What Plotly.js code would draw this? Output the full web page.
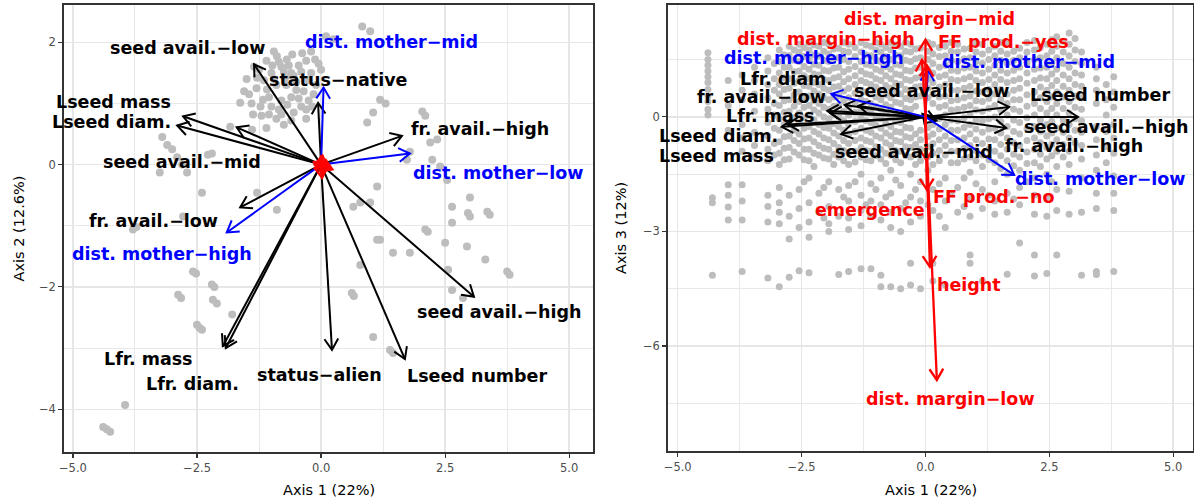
<!DOCTYPE html>
<html><head><meta charset="utf-8">
<script src="https://cdn.plot.ly/plotly-3.0.1.min.js"></script>
<style>body{margin:0;background:#fff}#chart{width:1194px;height:502px}</style>
</head><body><div id="chart"></div>
<script>
// ---------------- DATA ----------------
const varNames = ['seed avail.−low','status−native','Lseed mass','Lseed diam.','seed avail.−mid','fr. avail.−low','fr. avail.−high','Lfr. mass','Lfr. diam.','status−alien','Lseed number','seed avail.−high','dist. mother−low','dist. mother−mid','dist. mother−high','dist. margin−mid','dist. margin−high','dist. margin−low','FF prod.−yes','FF prod.−no','emergence','height'];
const varGroup = ['trait','trait','trait','trait','trait','trait','trait','trait','trait','trait','trait','trait','mother','mother','mother','margin','margin','margin','margin','margin','margin','margin'];
const axis1Load = [-1.35,-0.06,-2.78,-2.90,-1.70,-1.63,1.63,-1.92,-1.98,0.22,1.69,3.08,1.79,0.05,-1.90,0.00,-0.07,0.23,0.03,0.03,0.02,0.09];
const axis2Load = [1.64,1.01,0.79,0.64,0.61,-0.70,0.47,-3.00,-2.97,-3.03,-3.18,-2.16,0.18,1.26,-1.11,0.10,-0.05,-0.08,0.15,-0.15,-0.22,0.05];
const axis3Load = [0.29,0.08,-0.20,-0.26,-0.45,0.31,-0.29,0.10,0.16,-0.10,0.26,0.00,-1.52,1.23,0.60,2.02,1.49,-6.89,1.35,-1.91,-1.13,-3.93];
// label anchor positions (data units) for each panel, null = not shown
const leftLabelX = [-2.70,0.35,-4.19,-4.23,-2.80,-3.37,3.21,-3.47,-2.60,-0.04,3.15,3.60,3.57,1.41,-3.21,null,null,null,null,null,null,null];
const leftLabelY = [1.90,1.39,1.03,0.69,0.05,-0.93,0.59,-3.18,-3.58,-3.44,-3.45,-2.41,-0.13,2.00,-1.47,null,null,null,null,null,null,null];
const rightLabelX = [0.12,null,-4.21,-4.18,-0.24,-3.30,2.99,-3.12,-2.80,null,3.52,3.65,3.52,2.08,-2.24,0.09,-2.00,0.51,1.57,1.39,-1.11,0.88];
const rightLabelY = [0.69,null,-1.02,-0.50,-0.91,0.52,-0.75,0.02,1.00,null,0.58,-0.26,-1.62,1.44,1.55,2.57,2.05,-7.39,1.97,-2.10,-2.44,-4.40];

const leftPoints = [[-1.29,1.42],[-1.09,1.23],[-1.17,1.06],[-1.63,1.01],[-1.37,0.82],[-1.39,0.57],[-1.83,0.62],
[-0.89,1.77],[-0.69,1.72],[-0.95,1.85],[-0.8,1.6],[-1.0,1.5],[-0.6,1.5],[-0.45,1.62],[-0.3,1.7],[-0.12,1.72],[-0.2,1.5],[-0.5,1.35],[-0.7,1.3],[-0.9,1.3],[-0.35,1.2],[-0.6,1.1],[-0.8,1.05],[-1.0,0.95],[-0.4,0.95],[-0.25,1.05],[-0.55,0.85],[-1.2,0.8],[-0.9,0.75],[-0.3,0.75],[-0.1,1.3],[0.0,1.55],[-1.1,1.7],[-1.35,1.6],[-1.5,1.4],[-1.45,1.15],
[-0.85,1.68],[-0.75,1.52],[-0.65,1.62],[-0.55,1.45],[-0.4,1.52],[-0.25,1.38],[-0.15,1.15],[-0.45,1.08],[-0.68,0.98],[-0.85,0.9],[-1.05,1.1],[-1.22,0.95],[-1.3,1.25],[-1.15,1.38],[-0.95,1.4],[-0.72,1.42],[-0.5,1.22],[-0.3,0.9],[-0.6,0.72],[-0.8,0.82],[-1.05,0.82],[-1.25,1.55],[-0.98,1.62],[-0.58,1.8],[-0.38,1.82],[-0.2,1.85],[-0.05,1.65],[-0.18,0.95],[-1.55,1.2],[-1.4,1.0],[-1.1,0.6],[-0.75,0.65],
[0.1,2.1],[0.25,2.05],[0.83,2.26],[0.99,2.18],[1.19,1.06],[1.3,1.0],[0.93,0.69],[1.05,0.85],
[2.04,0.87],[2.1,0.8],[2.2,0.36],[2.34,0.41],[2.24,0.08],[2.4,-0.03],[2.54,-0.25],[1.79,0.21],[1.73,0.08],[1.13,-0.36],[3.0,-0.54],[2.96,-0.79],[3.0,-0.85],[3.35,-0.77],[3.4,-0.82],[2.64,-0.69],[2.64,-0.95],[2.1,-1.06],[2.15,-1.1],[1.79,-1.44],[1.45,-1.44],[1.13,-1.23],[1.19,-1.23],[2.5,-1.28],[2.94,-1.34],[3.31,-1.55],[3.75,-1.75],[3.8,-1.8],[2.56,-1.72],[2.64,-2.05],[2.86,-2.18],[1.05,-2.82],[1.39,-3.03],[1.45,-3.08],[0.79,-1.64],[0.62,-2.1],[0.66,-2.15],[0.79,-0.62],[0.99,-0.62],[0.65,-0.69],
[-2.28,0.16],[-2.2,0.18],[-3.2,0.45],[-3.1,0.32],[-3.0,0.25],[-2.9,0.12],[-2.8,0.0],[-2.7,-0.13],[-3.25,-0.13],[-2.4,-0.46],[-1.29,-0.46],[-0.89,-0.74],[-2.78,-0.85],[-3.79,-1.06],[-3.72,-1.02],
[-2.58,-1.75],[-2.52,-1.78],[-2.2,-1.96],[-2.15,-2.0],[-2.88,-2.13],[-2.82,-2.18],[-2.18,-2.21],[-2.1,-2.27],[-1.79,-2.45],[-2.5,-2.62],[-2.45,-2.67],[-2.4,-2.7],[-3.95,-3.93],[-4.39,-4.29],[-4.32,-4.33],[-4.25,-4.37]];

// right panel points, read as columns: [axis1, [axis3 values...]]
const rightColumns = [
[-4.39,[1.68,1.5,1.35,1.2,1.05,0.9,0.72,0.55,0.4,0.2,0.05]],
[-4.3,[-2.12,-2.25,-4.15]],
[-3.98,[0.95,0.3,-0.35,-1.78,-2.05,-2.36,-2.7]],
[-3.7,[1.1,0.7,0.45,-0.2,-0.55,-0.9,-1.78,-2.2,-2.7,-4.05]],
[-3.45,[1.3,0.95,0.6,0.15,-0.4,-0.75,-1.05]],
[-3.18,[1.55,1.2,0.85,0.5,0.2,-0.15,-0.5,-0.85,-1.15,-2.05,-2.35,-2.75,-4.22]],
[-3.05,[1.4,1.0,0.7,0.35,0.05,-0.3,-0.7,-1.0]],
[-2.95,[1.75,1.45,1.15,0.85,0.6,0.3,-0.05,-0.35,-0.65,-0.95,-1.25,-1.85,-2.25,-2.5,-2.8,-4.45]],
[-2.85,[1.62,1.3,1.02,0.72,0.42,0.12,-0.2,-0.52,-0.82,-1.12]],
[-2.75,[1.85,1.6,1.3,1.0,0.75,0.45,0.15,-0.2,-0.5,-0.8,-1.1,-2.05,-2.6,-3.2,-4.2]],
[-2.65,[1.75,1.48,1.18,0.88,0.58,0.28,-0.02,-0.35,-0.62,-0.92]],
[-2.55,[1.9,1.7,1.45,1.2,0.95,0.65,0.4,0.1,-0.15,-0.45,-0.7,-1.0,-1.9,-2.4,-2.9,-4.03]],
[-2.45,[1.82,1.58,1.32,1.08,0.82,0.52,0.25,-0.02,-0.3,-0.58,-0.85,-1.12,-1.7]],
[-2.35,[1.95,1.75,1.5,1.25,1.0,0.8,0.55,0.3,0.05,-0.25,-0.55,-0.85,-1.15,-1.6,-2.25,-2.75,-3.15,-4.08]],
[-2.25,[1.88,1.62,1.38,1.12,0.9,0.68,0.42,0.18,-0.08,-0.38,-0.65,-0.95,-1.3]],
[-2.15,[1.85,1.6,1.35,1.1,0.85,0.6,0.35,0.1,-0.2,-0.45,-0.75,-1.0,-2.0,-2.5]],
[-2.05,[1.95,1.72,1.48,1.22,0.98,0.75,0.5,0.25,0.0,-0.28,-0.55,-0.82,-1.08,-1.85,-2.65]],
[-1.95,[1.9,1.65,1.45,1.2,0.95,0.7,0.45,0.2,-0.05,-0.3,-0.6,-0.85,-1.1,-1.7,-2.35,-2.8,-3.0]],
[-1.85,[1.78,1.52,1.28,1.02,0.78,0.52,0.28,0.05,-0.18,-0.42,-0.7,-0.98,-1.25]],
[-1.75,[1.8,1.55,1.3,1.05,0.8,0.55,0.3,0.0,-0.25,-0.5,-0.8,-1.05,-1.9,-2.6,-4.13]],
[-1.65,[1.95,1.72,1.5,1.18,0.92,0.68,0.42,0.15,-0.1,-0.35,-0.62,-0.88,-1.15,-2.1]],
[-1.55,[1.9,1.7,1.45,1.25,1.0,0.75,0.5,0.25,0.05,-0.2,-0.45,-0.7,-0.95,-1.25,-1.8,-2.2,-2.65,-2.95,-4.05]],
[-1.42,[1.82,1.58,1.32,1.08,0.85,0.62,0.35,0.12,-0.12,-0.38,-0.62,-0.9,-1.18,-1.7]],
[-1.3,[1.95,1.7,1.45,1.2,0.95,0.7,0.45,0.2,-0.05,-0.3,-0.55,-0.8,-1.05,-1.5,-2.05,-2.45,-2.85,-3.98]],
[-1.2,[1.88,1.62,1.38,1.12,0.9,0.65,0.4,0.15,-0.1,-0.35,-0.62,-0.88,-1.12,-2.3]],
[-1.1,[1.85,1.6,1.35,1.1,0.85,0.6,0.35,0.1,-0.15,-0.4,-0.65,-0.9,-1.15,-1.75,-2.2,-2.6,-3.98]],
[-1.0,[1.95,1.75,1.5,1.25,1.0,0.78,0.52,0.28,0.02,-0.22,-0.5,-0.78,-1.02,-1.9]],
[-0.9,[1.9,1.7,1.45,1.2,0.95,0.7,0.45,0.2,-0.05,-0.3,-0.55,-0.85,-1.1,-1.6,-2.3,-2.7,-4.15,-4.45]],
[-0.8,[1.82,1.58,1.32,1.08,0.82,0.58,0.32,0.08,-0.18,-0.42,-0.68,-0.95,-1.22,-2.1]],
[-0.7,[1.95,1.75,1.5,1.25,1.0,0.75,0.5,0.25,0.0,-0.25,-0.5,-0.75,-1.0,-1.4,-2.0,-2.5,-2.9,-4.45]],
[-0.6,[1.88,1.62,1.38,1.12,0.88,0.62,0.38,0.12,-0.12,-0.38,-0.62,-0.88,-1.12,-1.65]],
[-0.5,[1.85,1.6,1.35,1.1,0.85,0.6,0.35,0.1,-0.15,-0.4,-0.65,-0.9,-1.2,-1.8,-2.4,-3.0,-4.5]],
[-0.4,[1.95,1.72,1.48,1.22,0.98,0.72,0.48,0.22,-0.02,-0.28,-0.52,-0.78,-1.02,-2.25]],
[-0.3,[1.9,1.7,1.45,1.2,0.95,0.7,0.45,0.2,-0.05,-0.3,-0.55,-0.8,-1.05,-1.5,-2.1,-2.75,-3.83,-4.4]],
[-0.2,[1.78,1.52,1.28,1.02,0.78,0.52,0.28,-0.45,-0.72,-0.98,-1.25,-1.9]],
[-0.1,[1.8,1.55,1.3,1.05,0.8,0.55,-0.35,-0.6,-0.85,-1.15,-1.7,-2.2,-2.6,-4.5]],
[0.05,[1.95,1.72,1.5,1.25,1.0,0.75,0.5,-0.28,-0.52,-0.78,-1.05,-1.4,-2.3]],
[0.15,[1.9,1.65,1.4,1.15,0.9,0.6,0.35,-0.2,-0.45,-0.7,-0.95,-1.25,-1.9,-2.45,-3.83,-4.3]],
[0.28,[1.82,1.58,1.3,1.05,0.78,0.52,0.25,-0.05,-0.32,-0.6,-0.88,-1.15,-1.75,-2.6]],
[0.4,[1.85,1.6,1.35,1.1,0.85,0.55,0.3,0.05,-0.2,-0.5,-0.75,-1.0,-1.6,-2.2,-2.9,-4.4]],
[0.52,[1.95,1.72,1.48,1.22,0.98,0.7,0.42,0.18,-0.08,-0.35,-0.62,-0.9,-1.2,-2.0]],
[0.65,[1.9,1.7,1.45,1.2,0.95,0.7,0.45,0.2,-0.1,-0.35,-0.6,-0.9,-1.2,-1.85,-2.5]],
[0.78,[1.78,1.52,1.28,1.0,0.75,0.5,0.25,-0.02,-0.28,-0.55,-0.82,-1.1,-1.6,-2.35]],
[0.9,[1.8,1.55,1.3,1.05,0.8,0.55,0.3,0.05,-0.2,-0.45,-0.75,-1.05,-1.45,-2.15,-2.6,-3.62,-3.83]],
[1.02,[1.95,1.7,1.45,1.2,0.95,0.68,0.42,0.18,-0.08,-0.32,-0.6,-0.88,-1.15,-1.75]],
[1.15,[1.9,1.65,1.4,1.15,0.9,0.65,0.4,0.15,-0.1,-0.4,-0.7,-1.0,-1.3,-1.9,-2.4,-4.3]],
[1.28,[1.75,1.5,1.25,0.98,0.72,0.48,0.22,-0.05,-0.32,-0.58,-0.85,-1.12,-2.05]],
[1.4,[1.85,1.6,1.35,1.1,0.85,0.6,0.3,0.0,-0.3,-0.6,-0.9,-1.2,-1.7,-2.2,-2.55]],
[1.52,[1.95,1.72,1.48,1.22,0.98,0.72,0.45,0.18,-0.12,-0.42,-0.72,-1.02,-1.35]],
[1.65,[1.9,1.65,1.4,1.15,0.9,0.6,0.35,0.05,-0.25,-0.55,-0.85,-1.15,-1.5,-2.0,-2.5,-4.12]],
[1.78,[1.72,1.48,1.22,0.95,0.7,0.45,0.2,-0.08,-0.38,-0.68,-0.98,-1.28,-2.15]],
[1.9,[1.8,1.55,1.3,1.0,0.75,0.45,0.15,-0.15,-0.45,-0.75,-1.05,-1.4,-1.85,-2.3,-3.3]],
[2.05,[1.95,1.7,1.42,1.15,0.88,0.58,0.28,-0.02,-0.32,-0.62,-0.92,-1.22,-1.7]],
[2.2,[2.0,1.75,1.5,1.25,0.95,0.65,0.35,0.05,-0.25,-0.55,-0.85,-1.2,-1.6,-2.05,-2.55,-3.62,-4.17]],
[2.32,[1.82,1.55,1.28,1.02,0.78,0.5,0.22,-0.08,-0.38,-0.68,-0.98,-1.3]],
[2.45,[1.9,1.6,1.3,1.0,0.7,0.4,0.1,-0.2,-0.5,-0.8,-1.1,-1.5,-2.1,-2.6,-4.1]],
[2.55,[2.02,1.72,1.42,1.12,0.82,0.52,0.22,-0.12,-0.42,-0.72,-1.02,-1.7]],
[2.65,[2.1,1.85,1.55,1.25,0.95,0.65,0.35,0.05,-0.3,-0.6,-0.9,-1.3,-1.9,-2.45,-3.62]],
[2.78,[1.98,1.7,1.4,1.1,0.8,0.52,0.22,-0.08,-0.4,-0.72,-1.05]],
[2.9,[2.2,1.9,1.6,1.3,1.0,0.7,0.4,0.1,-0.2,-0.55,-0.9,-1.25,-1.95,-2.55]],
[3.02,[2.05,1.75,1.45,1.15,0.85,0.55,0.25,-0.05,-0.35,-0.68]],
[3.15,[1.7,1.4,1.1,0.8,0.5,0.2,-0.1,-0.4,-0.75,-1.1,-1.6,-2.5,-4.15]],
[3.45,[1.3,1.0,0.7,0.35,-0.25,-0.6,-1.0,-1.4,-2.0,-2.4,-4.05,-4.13]],
[3.65,[0.85,0.45,0.05,-0.38,-0.78,-1.2]],
[3.8,[1.05,0.65,0.25,-0.2,-0.55,-0.95,-1.55,-2.0,-2.45,-4.05]]
];

const xTickVals = [-5,-2.5,0,2.5,5];
const xTickText = ['−5.0','−2.5','0.0','2.5','5.0'];
const yLeftTickVals = [-4,-2,0,2];
const yLeftTickText = ['−4','−2','0','2'];
const yRightTickVals = [-6,-3,0];
const yRightTickText = ['−6','−3','0'];

// ---------------- LAYOUT GEOMETRY ----------------
const W = 1194, H = 502;
const L = {x0:64, x1:593, y0:5, y1:452, xr:[-5.18,5.48], yr:[-4.70,2.61]};
const R = {x0:668, x1:1193, y0:5, y1:451, xr:[-5.196,5.40], yr:[-8.75,2.93]};
function scale(p){ return {kx:(p.x1-p.x0)/(p.xr[1]-p.xr[0]), ky:(p.y1-p.y0)/(p.yr[1]-p.yr[0])}; }
const colorOf = {trait:'#000000', mother:'#0000FF', margin:'#FF0000'};
const HEAD = 13, ANG = 32*Math.PI/180;

function arrowTrace(group, ax, ay, panel, xa, ya, width){
  const k = scale(panel);
  const X=[], Y=[];
  for(let i=0;i<varNames.length;i++){
    if(varGroup[i]!==group) continue;
    const tx=ax[i], ty=ay[i];
    X.push(0,tx,null); Y.push(0,ty,null);
    const th = Math.atan2(ty*k.ky, tx*k.kx);
    const a1 = th+Math.PI-ANG, a2 = th+Math.PI+ANG;
    X.push(tx+HEAD*Math.cos(a1)/k.kx, tx, tx+HEAD*Math.cos(a2)/k.kx, null);
    Y.push(ty+HEAD*Math.sin(a1)/k.ky, ty, ty+HEAD*Math.sin(a2)/k.ky, null);
  }
  return {type:'scatter', mode:'lines', x:X, y:Y, xaxis:xa, yaxis:ya, hoverinfo:'skip',
    line:{color:colorOf[group], width:width}, showlegend:false};
}

const rx=[], ry=[];
rightColumns.forEach(c=>c[1].forEach(v=>{rx.push(c[0]); ry.push(v);}));

const traces = [
  {type:'scatter', mode:'markers', x:leftPoints.map(p=>p[0]), y:leftPoints.map(p=>p[1]), xaxis:'x', yaxis:'y',
   marker:{color:'#bdbdbd', size:8}, hoverinfo:'skip', showlegend:false},
  {type:'scatter', mode:'markers', x:rx, y:ry, xaxis:'x2', yaxis:'y2',
   marker:{color:'#bdbdbd', size:7}, hoverinfo:'skip', showlegend:false},
  arrowTrace('trait', axis1Load, axis2Load, L, 'x','y',2),
  arrowTrace('mother', axis1Load, axis2Load, L, 'x','y',2),
  arrowTrace('margin', axis1Load, axis2Load, L, 'x','y',2.2),
  arrowTrace('trait', axis1Load, axis3Load, R, 'x2','y2',2),
  arrowTrace('mother', axis1Load, axis3Load, R, 'x2','y2',2),
  arrowTrace('margin', axis1Load, axis3Load, R, 'x2','y2',2.3)
];

const annotations = [];
const labFont = c => ({family:'DejaVu Sans', size:17.5, color:c});
for(let i=0;i<varNames.length;i++){
  const c = colorOf[varGroup[i]];
  if(leftLabelX[i]!==null) annotations.push({xref:'x', yref:'y', x:leftLabelX[i], y:leftLabelY[i], text:'<b>'+varNames[i]+'</b>', showarrow:false, font:labFont(c), xanchor:'center', yanchor:'middle', borderpad:0});
  if(rightLabelX[i]!==null) annotations.push({xref:'x2', yref:'y2', x:rightLabelX[i], y:rightLabelY[i], text:'<b>'+varNames[i]+'</b>', showarrow:false, font:labFont(c), xanchor:'center', yanchor:'middle', borderpad:0});
}
const tFont = {family:'DejaVu Sans', size:14.5, color:'#000'};
annotations.push({xref:'paper', yref:'paper', x:(L.x0+L.x1)/2/W, y:1-490/H, text:'Axis 1 (22%)', showarrow:false, font:tFont, xanchor:'center', yanchor:'middle'});
annotations.push({xref:'paper', yref:'paper', x:(R.x0+R.x1)/2/W, y:1-490/H, text:'Axis 1 (22%)', showarrow:false, font:tFont, xanchor:'center', yanchor:'middle'});
annotations.push({xref:'paper', yref:'paper', x:18/W, y:1-(L.y0+L.y1)/2/H, text:'Axis 2 (12.6%)', textangle:-90, showarrow:false, font:tFont, xanchor:'center', yanchor:'middle'});
annotations.push({xref:'paper', yref:'paper', x:621/W, y:1-(R.y0+R.y1)/2/H, text:'Axis 3 (12%)', textangle:-90, showarrow:false, font:tFont, xanchor:'center', yanchor:'middle'});

const tickFont = {family:'DejaVu Sans', size:11.5, color:'#4d4d4d'};
const GRID = '#e6e6e6';
function axBase(extra){
  return Object.assign({showline:true, mirror:true, linecolor:'#333333', linewidth:1.8,
    ticks:'outside', ticklen:4, tickwidth:1.2, tickcolor:'#333333', tickfont:tickFont,
    showgrid:true, gridcolor:GRID, gridwidth:1.4, zeroline:false, tickmode:'array', fixedrange:true}, extra);
}
const layout = {
  width:W, height:H, margin:{l:0,r:0,t:0,b:0}, paper_bgcolor:'#ffffff', plot_bgcolor:'#ffffff',
  showlegend:false,
  xaxis: axBase({domain:[L.x0/W, L.x1/W], range:L.xr, anchor:'y', tickvals:xTickVals, ticktext:xTickText,
    minor:{showgrid:true, gridcolor:GRID, gridwidth:0.9, tickvals:[-3.75,-1.25,1.25,3.75]}}),
  yaxis: axBase({domain:[1-L.y1/H, 1-L.y0/H], range:L.yr, anchor:'x', tickvals:yLeftTickVals, ticktext:yLeftTickText,
    minor:{showgrid:true, gridcolor:GRID, gridwidth:0.9, tickvals:[-3,-1,1]}}),
  xaxis2: axBase({domain:[R.x0/W, R.x1/W], range:R.xr, anchor:'y2', tickvals:xTickVals, ticktext:xTickText,
    minor:{showgrid:true, gridcolor:GRID, gridwidth:0.9, tickvals:[-3.75,-1.25,1.25,3.75]}}),
  yaxis2: axBase({domain:[1-R.y1/H, 1-R.y0/H], range:R.yr, anchor:'x2', tickvals:yRightTickVals, ticktext:yRightTickText,
    minor:{showgrid:true, gridcolor:GRID, gridwidth:0.9, tickvals:[-7.5,-4.5,-1.5,1.5]}}),
  annotations: annotations
};
Plotly.newPlot('chart', traces, layout, {staticPlot:true, displayModeBar:false});
</script>
</body></html>
